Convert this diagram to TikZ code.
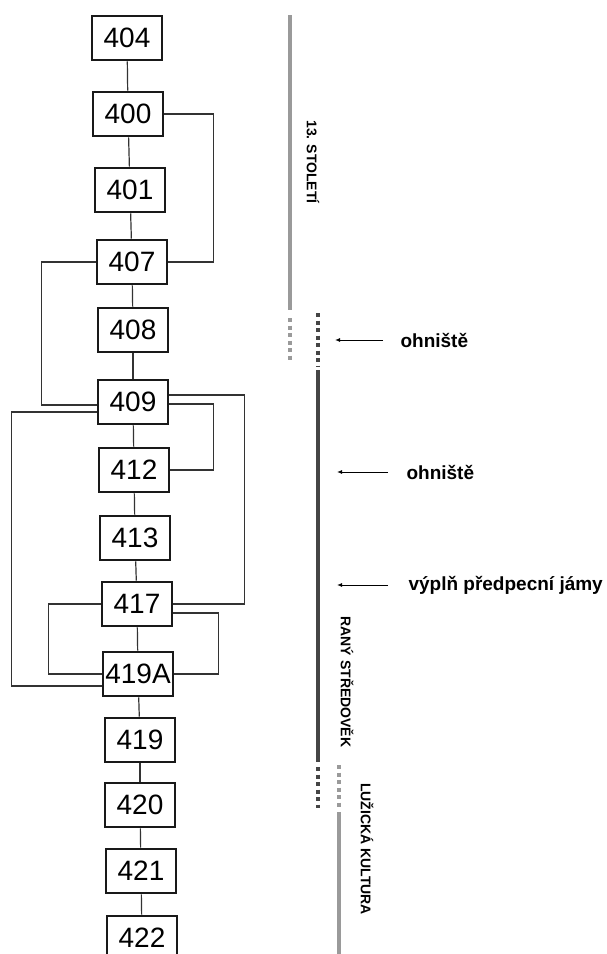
\documentclass[tikz,border=0pt]{standalone}
\usepackage{fontspec}
\setmainfont{Liberation Sans}
\usetikzlibrary{positioning, calc, arrows.meta}
\definecolor{barlight}{HTML}{9A9A9A}
\definecolor{bardark}{HTML}{454545}

\begin{document}
\begin{tikzpicture}[x=1pt, y=-1pt,
    unit/.style={draw=black!90, line width=2.7pt, minimum width=70pt, minimum height=44pt, inner sep=0pt, font=\fontsize{28}{30}\selectfont},
    link/.style={line width=1.2pt, black!80},
    note/.style={anchor=west, font=\bfseries\fontsize{19}{21}\selectfont},
    period/.style={rotate=-90, font=\bfseries\fontsize{14}{16}\selectfont},
    bar/.style={line width=3.5pt},
    broken/.style={line width=3.5pt, dash pattern=on 4pt off 3.5pt},
    pointer/.style={line width=1pt, -{Latex[length=5pt,width=4pt]}}]
            \useasboundingbox (0,0) rectangle (607,954);

            % layers
            \node[unit] (n404) at (127,38) {404};
            \node[unit] (n400) at (128,114) {400};
            \node[unit] (n401) at (130,190) {401};
            \node[unit] (n407) at (132,262) {407};
            \node[unit] (n408) at (133,330) {408};
            \node[unit] (n409) at (133,402) {409};
            \node[unit] (n412) at (134,470) {412};
            \node[unit] (n413) at (135,538) {413};
            \node[unit] (n417) at (137,604) {417};
            \node[unit] (n419A) at (138,674) {419A};
            \node[unit] (n419) at (140,740) {419};
            \node[unit] (n420) at (140,805) {420};
            \node[unit] (n421) at (141,871) {421};
            \node[unit] (n422) at (142,938) {422};

            \foreach \a/\b in {404/400, 400/401, 401/407, 407/408, 408/409, 409/412,
                412/413, 413/417, 417/419A, 419A/419, 419/420, 420/421, 421/422}
                \draw[link] (n\a) -- (n\b);

            % side links
            \draw[link] (n400.east) -- ++(49,0) |- (n407.east);
            \draw[link] (n407.west) -- ++(-54,0) |- ([yshift=-3pt]n409.west);
            \draw[link] ([yshift=-10pt]n409.west) -- ++(-85,0) |- ([yshift=-12pt]n419A.west);
            \draw[link] ([yshift=7pt]n409.east) -- ++(75,0) |- (n417.east);
            \draw[link] ([yshift=-2pt]n409.east) -- ++(44,0) |- (n412.east);
            \draw[link] (n417.west) -- ++(-52,0) |- (n419A.west);
            \draw[link] ([yshift=-9pt]n417.east) -- ++(45,0) |- (n419A.east);

            % periods
            \draw[bar, barlight] (290,15) -- (290,310);
            \draw[broken, barlight] (290,318) -- (290,362);
            \draw[broken, bardark] (318,313) -- (318,366);
            \draw[bar, bardark] (318,370) -- (318,762);
            \draw[broken, bardark] (318,767) -- (318,808);
            \draw[broken, barlight] (339,765) -- (339,808);
            \draw[bar, barlight] (339,812) -- (339,954);

            \node[period] (p13) at (313,162) {13. STOLETÍ};
            \node[period] (pstr) at (347,682) {RANÝ STŘEDOVĚK};
            \node[period] (pluz) at (367,849) {LUŽICKÁ KULTURA};

            % notes
            \node[note] (oh1) at (397,340) {ohniště};
            \node[note] (oh2) at (403,472) {ohniště};
            \node[note] (vyp) at (405,585) {výplň předpecní jámy};

            \coordinate (t1) at (335,340);
            \coordinate (t2) at (337,472);
            \coordinate (t3) at (337,585);
            \draw[pointer] ([xshift=-14pt]oh1.west) -- (t1);
            \draw[pointer] ([xshift=-15pt]oh2.west) -- (t2);
            \draw[pointer] ([xshift=-17pt]vyp.west) -- (t3);
        \end{tikzpicture}
\end{document}
